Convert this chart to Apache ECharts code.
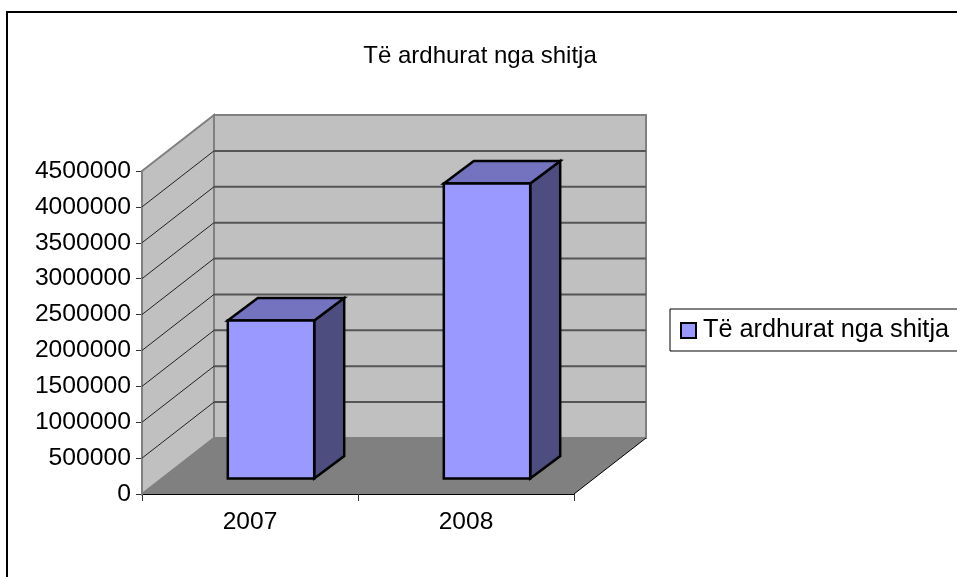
<!DOCTYPE html>
<html>
<head>
<meta charset="utf-8">
<style>html,body{margin:0;padding:0;background:#fff}#main{width:957px;height:577px}</style>
<script src="https://cdn.jsdelivr.net/npm/echarts@6/dist/echarts.min.js"></script>
</head>
<body>
<div id="main"></div>
<script>
var chartDom = document.getElementById('main');
var myChart = echarts.init(chartDom);

const years = ['2007', '2008'];
const sales = [2200000, 4110000];
const seriesName = 'Të ardhurat nga shitja';
const yMax = 4500000;
const yStep = 500000;
const yTicks = [0, 500000, 1000000, 1500000, 2000000, 2500000, 3000000, 3500000, 4000000, 4500000];

// fake 3d depth, in pixels
const wallDx = 72, wallDy = -56;
const barDepthX = 30, barDepthY = -22.5;
const barShiftX = 21, barShiftY = -15.5;

function poly(points, fill, stroke, lineWidth) {
  return {
    type: 'polygon',
    shape: { points: points },
    style: { fill: fill, stroke: stroke || null, lineWidth: lineWidth || 0, lineJoin: 'miter' }
  };
}

function renderWalls(params, api) {
  var x0 = params.coordSys.x;
  var x1 = x0 + params.coordSys.width;
  var y0 = api.coord([0, 0])[1];
  var yT = api.coord([0, yMax])[1];
  var children = [
    poly([[x0 + wallDx, yT + wallDy], [x1 + wallDx, yT + wallDy], [x1 + wallDx, y0 + wallDy], [x0 + wallDx, y0 + wallDy]], '#c0c0c0', '#808080', 2),
    poly([[x0, yT], [x0 + wallDx, yT + wallDy], [x0 + wallDx, y0 + wallDy], [x0, y0]], '#c0c0c0', '#808080', 2),
    poly([[x0, y0], [x1, y0], [x1 + wallDx, y0 + wallDy], [x0 + wallDx, y0 + wallDy]], '#808080')
  ];
  yTicks.forEach(function (t) {
    if (t === 0 || t === yMax) return;
    var y = api.coord([0, t])[1];
    children.push({
      type: 'line',
      shape: { x1: x0, y1: y, x2: x0 + wallDx, y2: y + wallDy },
      style: { stroke: '#222', lineWidth: 1 }
    });
    children.push({
      type: 'line',
      shape: { x1: x0 + wallDx, y1: y + wallDy, x2: x1 + wallDx, y2: y + wallDy },
      style: { stroke: '#555', lineWidth: 2 }
    });
  });
  children.push({
    type: 'line',
    shape: { x1: x1, y1: y0, x2: x1 + wallDx, y2: y0 + wallDy },
    style: { stroke: '#000', lineWidth: 1 }
  });
  return { type: 'group', children: children };
}

function renderBar(params, api) {
  var idx = api.value(0);
  var base = api.coord([idx, 0]);
  var top = api.coord([idx, api.value(1)]);
  var band = api.size([1, 0])[0];
  var w = band / 2.5;
  var l = base[0] - w / 2 + barShiftX;
  var r = l + w;
  var b = base[1] + barShiftY;
  var t = top[1] + barShiftY;
  var dx = barDepthX, dy = barDepthY;
  return {
    type: 'group',
    children: [
      poly([[r, t], [r + dx, t + dy], [r + dx, b + dy], [r, b]], '#4d4d80', '#000', 2.5),
      poly([[l, t], [l + dx, t + dy], [r + dx, t + dy], [r, t]], '#7373bf', '#000', 2.5),
      poly([[l, t], [r, t], [r, b], [l, b]], '#9999ff', '#000', 2.5)
    ]
  };
}

var option = {
  animation: false,
  title: {
    text: seriesName,
    left: 475,
    top: 39,
    textAlign: 'center',
    textStyle: { fontFamily: 'Liberation Sans', fontSize: 24, fontWeight: 'normal', color: '#000' }
  },
  grid: { left: 142, right: 383, top: 171, bottom: 83 },
  legend: {
    left: 670,
    top: 309,
    orient: 'vertical',
    padding: [9, 20, 8, 10],
    backgroundColor: '#fff',
    borderColor: '#000',
    borderWidth: 1,
    borderRadius: 0,
    icon: 'rect',
    itemWidth: 15,
    itemHeight: 15,
    itemGap: 0,
    itemStyle: { borderColor: '#000', borderWidth: 2 },
    textStyle: { fontFamily: 'Liberation Sans', fontSize: 25.3, color: '#000', padding: [0, 0, 0, 2] },
    data: [seriesName]
  },
  xAxis: {
    type: 'category',
    data: years,
    axisLine: { show: true, lineStyle: { color: '#000', width: 1 } },
    axisTick: { show: true, length: 7, alignWithLabel: false, lineStyle: { color: '#333' } },
    axisLabel: { fontFamily: 'Liberation Sans', fontSize: 24.5, color: '#000', margin: 16 },
    splitLine: { show: false }
  },
  yAxis: {
    type: 'value',
    min: 0,
    max: yMax,
    interval: yStep,
    axisLine: { show: true, lineStyle: { color: '#555', width: 1 } },
    axisTick: { show: true, length: 6, lineStyle: { color: '#333' } },
    axisLabel: {
      fontFamily: 'Liberation Sans',
      fontSize: 24.7,
      color: '#000',
      margin: 11,
      formatter: function (v) { return String(v); }
    },
    splitLine: { show: false }
  },
  graphic: [{
    type: 'rect',
    silent: true,
    z: -1,
    shape: { x: 7, y: 12, width: 960, height: 575 },
    style: { fill: null, stroke: '#000', lineWidth: 2 }
  }],
  series: [
    {
      type: 'custom',
      name: 'walls',
      silent: true,
      z: 1,
      clip: false,
      renderItem: renderWalls,
      data: [[0, 0]],
      encode: { x: 0, y: 1 }
    },
    {
      type: 'custom',
      name: seriesName,
      z: 2,
      clip: false,
      itemStyle: { color: '#9999ff' },
      renderItem: renderBar,
      data: sales.map(function (v, i) { return [i, v]; }),
      encode: { x: 0, y: 1 }
    }
  ]
};

option && myChart.setOption(option);
</script>
</body>
</html>
